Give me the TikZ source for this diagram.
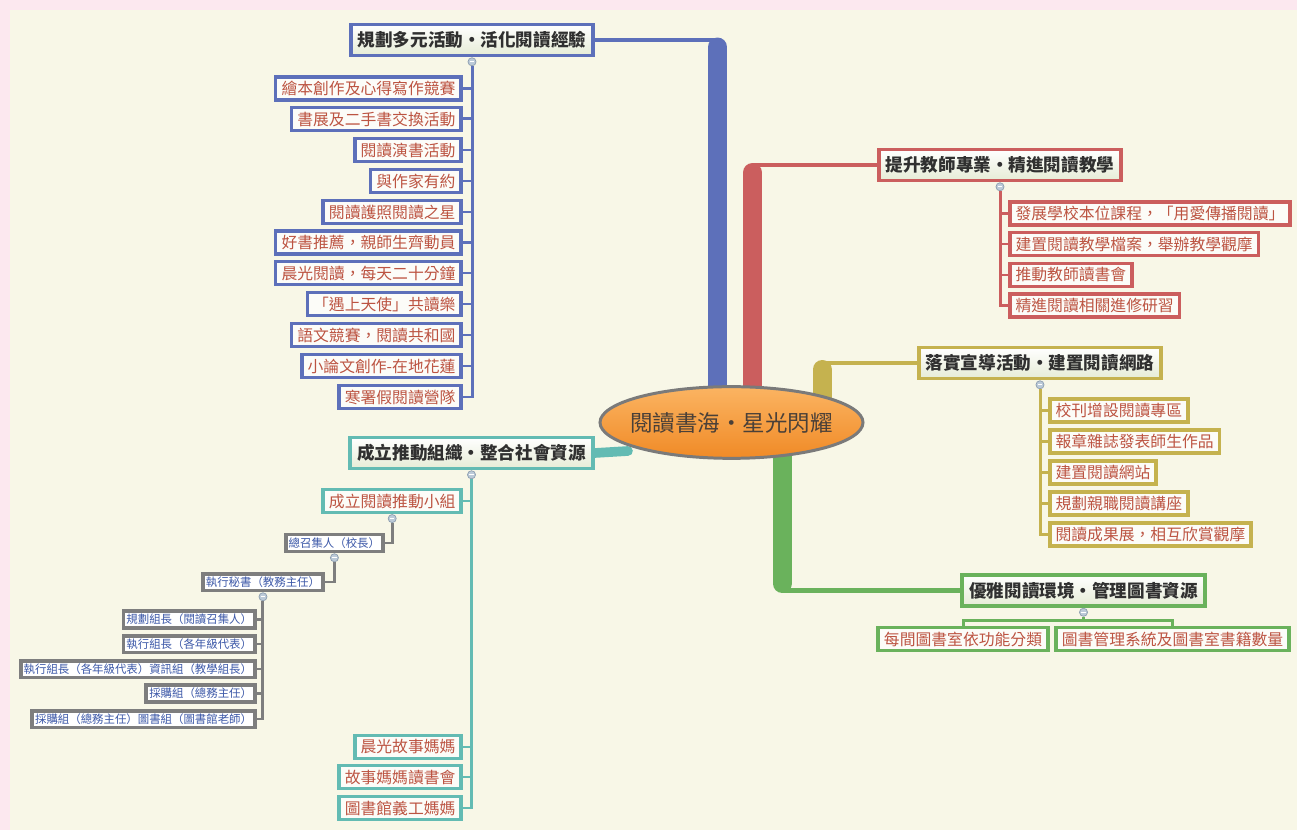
\documentclass[tikz,border=0pt]{standalone}
\usepackage{fontspec}
\setmainfont{Noto Sans CJK TC}
\usetikzlibrary{shapes.geometric}
\usetikzlibrary{backgrounds}
\definecolor{bluebr}{HTML}{5D70BA}
\definecolor{redbr}{HTML}{CB5E5E}
\definecolor{olivebr}{HTML}{C5B24F}
\definecolor{greenbr}{HTML}{6AB25C}
\definecolor{tealbr}{HTML}{63BBB3}
\definecolor{staffline}{HTML}{7E7E7E}
\definecolor{leaftext}{HTML}{BC5442}
\definecolor{stafftext}{HTML}{3C58A8}
\definecolor{topictext}{HTML}{303030}
\definecolor{topicfill}{HTML}{E6ECD6}
\definecolor{leaffill}{HTML}{FCFCF8}
\definecolor{rootlight}{HTML}{FBB462}
\definecolor{rootdark}{HTML}{F08A26}
\definecolor{rootline}{HTML}{7A7A7A}
\definecolor{titletext}{HTML}{4A4038}
\definecolor{markerfill}{HTML}{BCCAD8}
\definecolor{markerline}{HTML}{8C9DB0}
\definecolor{cream}{HTML}{F8F7E7}
\definecolor{pinkedge}{HTML}{FCE8EF}
\tikzset{
    every node/.style={font=\fontsize{9pt}{11pt}\selectfont},
    root/.style={
        ellipse,
        draw=rootline, line width=1.7pt,
        top color=rootlight, bottom color=rootdark,
        minimum width=149.7pt, minimum height=40.8pt,
        inner xsep=-5pt,
        text=titletext,
        font=\fontsize{12.8pt}{15pt}\selectfont},
    topic/.style={
        draw=#1, line width=2.2pt,
        top color=white, bottom color=topicfill,
        minimum height=17.6pt, inner xsep=4pt, inner ysep=0pt,
        text=topictext,
        font=\fontsize{10pt}{12pt}\selectfont\bfseries},
    leaf/.style={
        draw=#1, line width=2pt, fill=leaffill,
        minimum height=13pt, inner xsep=3.3pt, inner ysep=0pt,
        text=leaftext},
    staff/.style={
        draw=staffline, line width=2.2pt, fill=white,
        minimum height=9.6pt, inner xsep=1.7pt, inner ysep=0pt,
        text=stafftext,
        font=\fontsize{6.5pt}{8pt}\selectfont},
    marker/.style={
        circle, draw=markerline, fill=markerfill,
        line width=0.4pt, minimum size=4.6pt, inner sep=0pt,
        path picture={\draw[white, line width=0.6pt]
            ([xshift=-1.3pt]path picture bounding box.center) --
            ([xshift=1.3pt]path picture bounding box.center);}},
    stem/.style={draw=#1, line width=2.5pt},
    bar/.style={draw=#1, line width=10.8pt, line cap=round},
    twig/.style={draw=#1, line width=1.7pt,
        to path={|- (\tikztotarget)}}}

\begin{document}
\begin{tikzpicture}[x=0.02cm, y=-0.02cm]
    \useasboundingbox (0,0) rectangle (1297,830);
    \begin{scope}[on background layer]
        \fill[pinkedge] (0,0) rectangle (1297,830);
        \fill[cream] (10,10) rectangle (1297,830);
    \end{scope}
    % centre
    \node[root] (hub) at (731.5,422.5) {閱讀書海・星光閃耀};
    % main topics
    \node[topic=bluebr] (bh) at (472,40) {規劃多元活動・活化閱讀經驗};
    \node[topic=redbr] (rh) at (1000,165) {提升教師專業・精進閱讀教學};
    \node[topic=olivebr] (oh) at (1040,363) {落實宣導活動・建置閱讀網路};
    \node[topic=greenbr] (gh) at (1083.5,590.5) {優雅閱讀環境・管理圖書資源};
    \node[topic=tealbr] (th) at (471.5,453) {成立推動組織・整合社會資源};
    \node[marker] (bm) at ([yshift=-2.5pt]bh.south) {};
    \node[marker] (rm) at ([yshift=-2.5pt]rh.south) {};
    \node[marker] (om) at ([yshift=-2.5pt]oh.south) {};
    \node[marker] (gm) at ([yshift=-2.5pt]gh.south) {};
    \node[marker] (tm) at ([yshift=-2.5pt]th.south) {};
    % activities
    \node[leaf=bluebr, anchor=east] (b1) at (463,88.5) {繪本創作及心得寫作競賽};
    \node[leaf=bluebr, anchor=east] (b2) at (463,119) {書展及二手書交換活動};
    \node[leaf=bluebr, anchor=east] (b3) at (463,150) {閱讀演書活動};
    \node[leaf=bluebr, anchor=east] (b4) at (463,181) {與作家有約};
    \node[leaf=bluebr, anchor=east] (b5) at (463,212) {閱讀護照閱讀之星};
    \node[leaf=bluebr, anchor=east] (b6) at (463,242.5) {好書推薦，親師生齊動員};
    \node[leaf=bluebr, anchor=east] (b7) at (463,273) {晨光閱讀，每天二十分鐘};
    \node[leaf=bluebr, anchor=east] (b8) at (463,304) {「遇上天使」共讀樂};
    \node[leaf=bluebr, anchor=east] (b9) at (463,335) {語文競賽，閱讀共和國};
    \node[leaf=bluebr, anchor=east] (b10) at (463,366) {小論文創作-在地花蓮};
    \node[leaf=bluebr, anchor=east] (b11) at (463,397) {寒署假閱讀營隊};
    % teachers
    \node[leaf=redbr, anchor=west] (r1) at (1008,213.5) {發展學校本位課程，「用愛傳播閱讀」};
    \node[leaf=redbr, anchor=west] (r2) at (1008,244) {建置閱讀教學檔案，舉辦教學觀摩};
    \node[leaf=redbr, anchor=west] (r3) at (1008,275) {推動教師讀書會};
    \node[leaf=redbr, anchor=west] (r4) at (1008,305.5) {精進閱讀相關進修研習};
    % promotion
    \node[leaf=olivebr, anchor=west] (o1) at (1048,410.5) {校刊增設閱讀專區};
    \node[leaf=olivebr, anchor=west] (o2) at (1048,441.5) {報章雜誌發表師生作品};
    \node[leaf=olivebr, anchor=west] (o3) at (1048,472.5) {建置閱讀網站};
    \node[leaf=olivebr, anchor=west] (o4) at (1048,503.5) {規劃親職閱讀講座};
    \node[leaf=olivebr, anchor=west] (o5) at (1048,534.5) {閱讀成果展，相互欣賞觀摩};
    % library
    \node[leaf=greenbr] (g1) at (963,639) {每間圖書室依功能分類};
    \node[leaf=greenbr] (g2) at (1172.5,639) {圖書管理系統及圖書室書籍數量};
    % organisation
    \node[leaf=tealbr, anchor=east] (t1) at (463,501) {成立閱讀推動小組};
    \node[leaf=tealbr, anchor=east] (t2) at (463,747) {晨光故事媽媽};
    \node[leaf=tealbr, anchor=east] (t3) at (463,777) {故事媽媽讀書會};
    \node[leaf=tealbr, anchor=east] (t4) at (463,808) {圖書館義工媽媽};
    \node[marker] (t1m) at ([yshift=-2.5pt]t1.south) {};
    \node[staff, anchor=east] (k1) at (385,543) {總召集人（校長）};
    \node[marker] (k1m) at ([yshift=-2.5pt]k1.south) {};
    \node[staff, anchor=east] (k2) at (325,582) {執行秘書（教務主任）};
    \node[marker] (k2m) at ([yshift=-2.5pt]k2.south) {};
    \node[staff, anchor=east] (k3) at (257,619.5) {規劃組長（閱讀召集人）};
    \node[staff, anchor=east] (k4) at (257,644) {執行組長（各年級代表）};
    \node[staff, anchor=east] (k5) at (257,669) {執行組長（各年級代表）資訊組（教學組長）};
    \node[staff, anchor=east] (k6) at (257,693.5) {採購組（總務主任）};
    \node[staff, anchor=east] (k7) at (257,719) {採購組（總務主任）圖書組（圖書館老師）};

    % thick branches behind the centre
    \begin{scope}[on background layer]
        \coordinate (bt) at (717.5,47);
        \coordinate (rt) at (752.5,172.5);
        \coordinate (ot) at (822,369.5);
        \coordinate (gt) at (782,583.5);
        \coordinate (tt) at (628,451);
        \draw[bar=bluebr] (hub.center -| bt) -- (bt);
        \draw[bar=redbr] (hub.center -| rt) -- (rt);
        \draw[bar=olivebr] (hub.center -| ot) -- (ot);
        \draw[bar=greenbr] (hub.center -| gt) -- (gt);
        \draw[stem=bluebr] (bh.east) -- (bh.east -| bt);
        \draw[stem=redbr] (rh.west) -- (rh.west -| rt);
        \draw[stem=olivebr] (oh.west) -- (oh.west -| ot);
        \draw[stem=greenbr] (gh.west) -- (gh.west -| gt);
        \draw[stem=tealbr, line width=5.5pt, line cap=round] (th.east) -- (tt);
    \end{scope}

    \draw (bm) edge[twig=bluebr] (b1);
    \draw (bm) edge[twig=bluebr] (b2);
    \draw (bm) edge[twig=bluebr] (b3);
    \draw (bm) edge[twig=bluebr] (b4);
    \draw (bm) edge[twig=bluebr] (b5);
    \draw (bm) edge[twig=bluebr] (b6);
    \draw (bm) edge[twig=bluebr] (b7);
    \draw (bm) edge[twig=bluebr] (b8);
    \draw (bm) edge[twig=bluebr] (b9);
    \draw (bm) edge[twig=bluebr] (b10);
    \draw (bm) edge[twig=bluebr] (b11);
    \draw (rm) edge[twig=redbr] (r1);
    \draw (rm) edge[twig=redbr] (r2);
    \draw (rm) edge[twig=redbr] (r3);
    \draw (rm) edge[twig=redbr] (r4);
    \draw (om) edge[twig=olivebr] (o1);
    \draw (om) edge[twig=olivebr] (o2);
    \draw (om) edge[twig=olivebr] (o3);
    \draw (om) edge[twig=olivebr] (o4);
    \draw (om) edge[twig=olivebr] (o5);
    \coordinate (gk) at ([yshift=-2pt]gm.south);
    \draw[twig=greenbr] (g1) |- (gk) -| (g2);
    \draw[twig=greenbr] (gm) -- (gk);
    \draw (tm) edge[twig=tealbr] (t1);
    \draw (tm) edge[twig=tealbr] (t2);
    \draw (tm) edge[twig=tealbr] (t3);
    \draw (tm) edge[twig=tealbr] (t4);
    \draw (t1m) edge[twig=staffline] (k1);
    \draw (k1m) edge[twig=staffline] (k2);
    \draw (k2m) edge[twig=staffline] (k3);
    \draw (k2m) edge[twig=staffline] (k4);
    \draw (k2m) edge[twig=staffline] (k5);
    \draw (k2m) edge[twig=staffline] (k6);
    \draw (k2m) edge[twig=staffline] (k7);
\end{tikzpicture}
\end{document}
